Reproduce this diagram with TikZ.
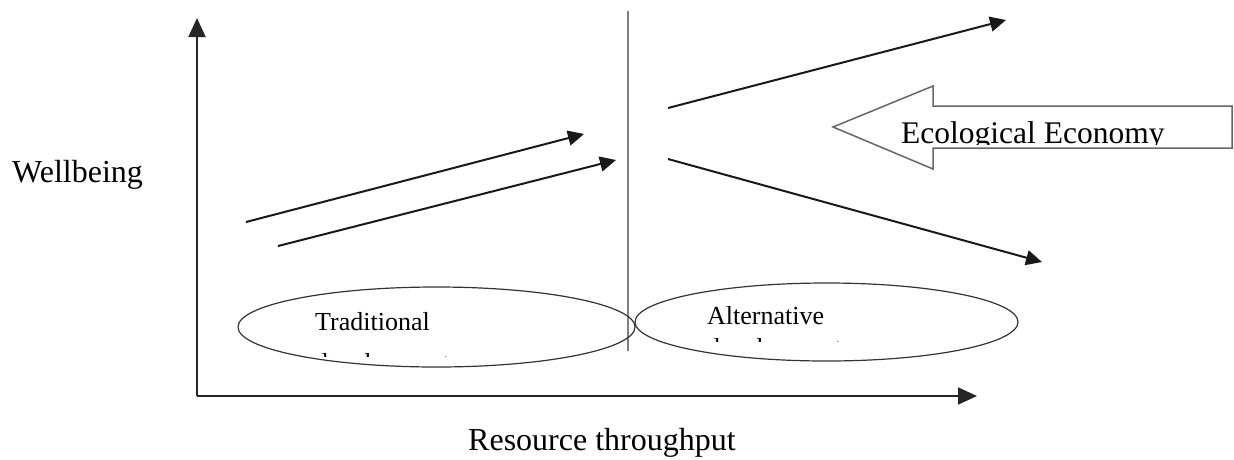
\documentclass[tikz,border=0pt]{standalone}
\usepackage{fontspec}
\setmainfont{Liberation Serif}
\usetikzlibrary{arrows.meta,shapes.geometric}
\tikzset{
  axis/.style={line width=2pt, draw=black!85, -{Triangle[length=19pt,width=17pt]}},
  trend/.style={line width=2pt, draw=black!90, -{Triangle[length=16pt,width=15pt]}},
  devell/.style={ellipse, draw=black!80, line width=1.2pt, inner sep=0pt},
  lbl/.style={anchor=base west, inner sep=0pt, font=\fontsize{26pt}{30pt}\selectfont},
  biglbl/.style={anchor=base west, inner sep=0pt, font=\fontsize{32pt}{36pt}\selectfont},
}
\begin{document}
\begin{tikzpicture}[x=1pt,y=-1pt]
\useasboundingbox (0,0) rectangle (1234,459);
% axes
\coordinate (o) at (197,396);
\coordinate (ytop) at (197,18);
\coordinate (xend) at (977,396);
\draw[axis] (o) -- (ytop);
\draw[axis] (o) -- (xend);
% divider
\coordinate (dtop) at (628,11);
\coordinate (dbot) at (628,351);
\draw[line width=1.5pt, draw=black!50] (dtop) -- (dbot);
% trend arrows
\coordinate (a1s) at (246,222);
\coordinate (a1e) at (584,134);
\coordinate (a2s) at (278,246);
\coordinate (a2e) at (616,160);
\coordinate (a3s) at (668,108);
\coordinate (a3e) at (1006,20);
\coordinate (a4s) at (668,159);
\coordinate (a4e) at (1042,262);
\draw[trend] (a1s) -- (a1e);
\draw[trend] (a2s) -- (a2e);
\draw[trend] (a3s) -- (a3e);
\draw[trend] (a4s) -- (a4e);
% ellipses
\node[devell, minimum width=397pt, minimum height=80pt] (trad) at (436.5,327) {};
\node[devell, minimum width=383pt, minimum height=78pt] (alt) at (826.5,322) {};
\node[lbl] (tradt) at (315,330) {Traditional};
\node[lbl] (altt) at (707,324) {Alternative};
\begin{scope}
  \clip (300,350) rectangle (600,356);
  \node[lbl] (tradd) at (315,371) {development};
\end{scope}
\begin{scope}
  \clip (690,335) rectangle (1000,341);
  \node[lbl] (altd) at (707,356) {development};
\end{scope}
% block arrow
\draw[line width=1.5pt, draw=black!60, line join=miter]
  (1232,106) -- (933,106) -- (933,86) -- (833,127) -- (933,169) -- (933,148) -- (1232,148) -- cycle;
\begin{scope}
  \clip (880,95) rectangle (1220,144);
  \node[anchor=base west, inner sep=0pt, font=\fontsize{31.5pt}{35pt}\selectfont] (eco) at (901,143) {Ecological Economy};
\end{scope}
% axis labels
\node[biglbl] (wb) at (12,182) {Wellbeing};
\node[biglbl] (rt) at (468,450) {Resource throughput};
\end{tikzpicture}
\end{document}
